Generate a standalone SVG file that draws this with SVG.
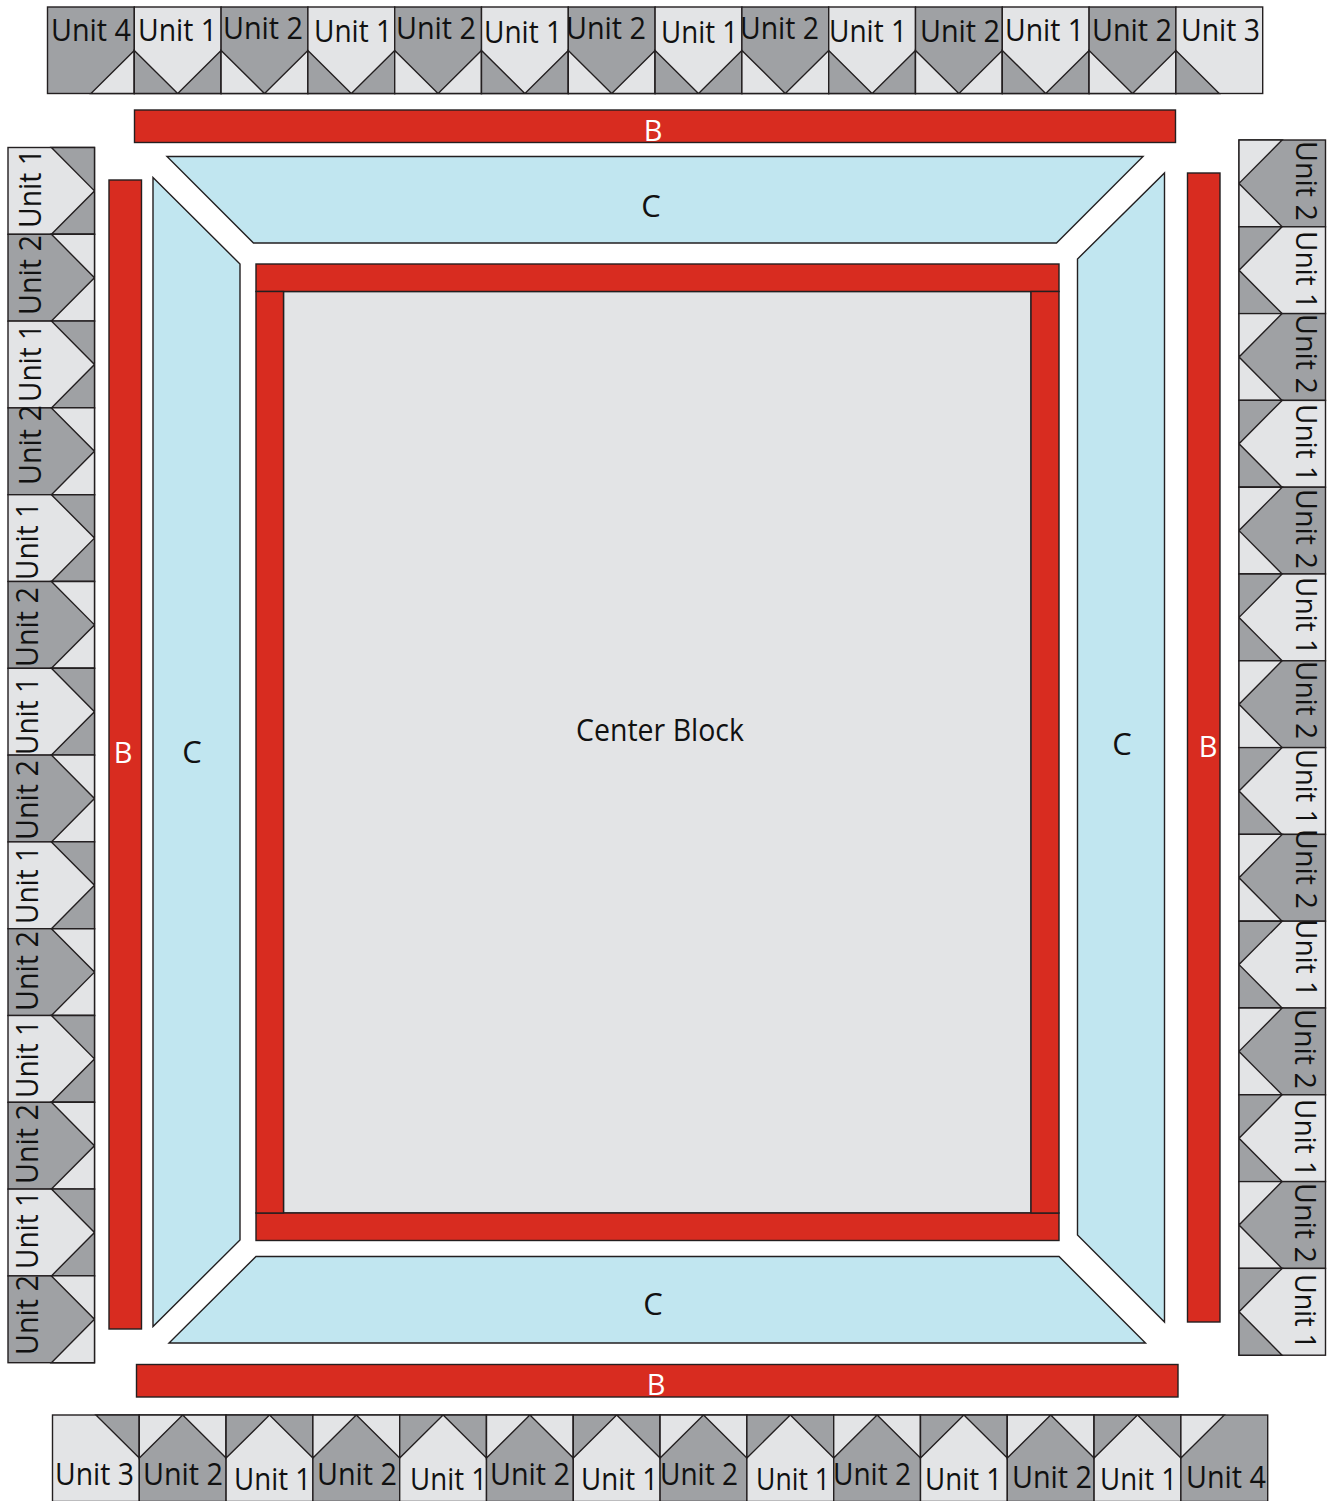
<svg xmlns="http://www.w3.org/2000/svg" xmlns:xlink="http://www.w3.org/1999/xlink" width="1328" height="1501" viewBox="0 0 1328 1501">
<style>
.l{fill:#e3e4e6}.d{fill:#9fa1a4}
.l,.d,.r,.b{stroke:#231f20;stroke-width:1.4;stroke-linejoin:miter}
.r{fill:#d82c20}.b{fill:#c1e6f0}
text{font-family:"Open Sans","Noto Sans","Liberation Sans",sans-serif;font-size:31px;fill:#111}
.w{fill:#fff;font-size:29px}
#labels-right text{font-size:30px}
</style>
<defs>
<g id="u1"><rect class="l" width="86.8" height="86.5"/><path class="d" d="M0 43.4L43.4 86.5H0Z M86.8 43.4L43.4 86.5H86.8Z"/></g>
<g id="u2"><rect class="d" width="86.8" height="86.5"/><path class="l" d="M0 43.4L43.4 86.5H0Z M86.8 43.4L43.4 86.5H86.8Z"/></g>
<g id="u3"><rect class="l" width="86.8" height="86.5"/><path class="d" d="M0 43.4L43.4 86.5H0Z"/></g>
<g id="u4"><rect class="d" width="86.8" height="86.5"/><path class="l" d="M86.8 43.4L43.4 86.5H86.8Z"/></g>
</defs>
<g id="center-block"><rect class="l" x="283.5" y="291.5" width="747.5" height="921.5"/></g>
<g id="center-frame">
<rect class="r" x="256" y="264" width="803" height="27.5"/>
<rect class="r" x="256" y="1213" width="803" height="27.5"/>
<rect class="r" x="256" y="291.5" width="27.5" height="921.5"/>
<rect class="r" x="1031" y="291.5" width="28" height="921.5"/>
</g>
<g id="c-top"><path class="b" d="M167 156.5H1143L1056.5 243H253.5Z"/></g>
<g id="c-left"><path class="b" d="M153 177.5L240 264V1240L153 1326.5Z"/></g>
<g id="c-right"><path class="b" d="M1164.5 173V1322L1077.5 1235V259Z"/></g>
<g id="c-bottom"><path class="b" d="M256 1256.5H1059L1145.5 1343H169Z"/></g>
<g id="b-top"><rect class="r" x="134.5" y="110" width="1041" height="32.5"/></g>
<g id="b-left"><rect class="r" x="109" y="180" width="32.5" height="1149"/></g>
<g id="b-right"><rect class="r" x="1187.5" y="173" width="32.5" height="1149"/></g>
<g id="b-bottom"><rect class="r" x="136.5" y="1364.5" width="1041.5" height="32.5"/></g>
<g id="strip-top">
<use href="#u4" x="47.5" y="7"/><use href="#u1" x="134.3" y="7"/><use href="#u2" x="221.1" y="7"/><use href="#u1" x="307.9" y="7"/><use href="#u2" x="394.7" y="7"/><use href="#u1" x="481.5" y="7"/><use href="#u2" x="568.3" y="7"/><use href="#u1" x="655.1" y="7"/><use href="#u2" x="741.9" y="7"/><use href="#u1" x="828.7" y="7"/><use href="#u2" x="915.5" y="7"/><use href="#u1" x="1002.3" y="7"/><use href="#u2" x="1089.1" y="7"/><use href="#u3" x="1175.9" y="7"/>
</g>
<g id="strip-bottom">
<use href="#u3" transform="translate(139.3 1501.5) rotate(180)"/><use href="#u2" transform="translate(226.1 1501.5) rotate(180)"/><use href="#u1" transform="translate(312.9 1501.5) rotate(180)"/><use href="#u2" transform="translate(399.7 1501.5) rotate(180)"/><use href="#u1" transform="translate(486.5 1501.5) rotate(180)"/><use href="#u2" transform="translate(573.3 1501.5) rotate(180)"/><use href="#u1" transform="translate(660.1 1501.5) rotate(180)"/><use href="#u2" transform="translate(746.9 1501.5) rotate(180)"/><use href="#u1" transform="translate(833.7 1501.5) rotate(180)"/><use href="#u2" transform="translate(920.5 1501.5) rotate(180)"/><use href="#u1" transform="translate(1007.3 1501.5) rotate(180)"/><use href="#u2" transform="translate(1094.1 1501.5) rotate(180)"/><use href="#u1" transform="translate(1180.9 1501.5) rotate(180)"/><use href="#u4" transform="translate(1267.7 1501.5) rotate(180)"/>
</g>
<g id="strip-left">
<use href="#u1" transform="translate(8 234.3) rotate(-90)"/><use href="#u2" transform="translate(8 321.1) rotate(-90)"/><use href="#u1" transform="translate(8 407.9) rotate(-90)"/><use href="#u2" transform="translate(8 494.7) rotate(-90)"/><use href="#u1" transform="translate(8 581.5) rotate(-90)"/><use href="#u2" transform="translate(8 668.3) rotate(-90)"/><use href="#u1" transform="translate(8 755.1) rotate(-90)"/><use href="#u2" transform="translate(8 841.9) rotate(-90)"/><use href="#u1" transform="translate(8 928.7) rotate(-90)"/><use href="#u2" transform="translate(8 1015.5) rotate(-90)"/><use href="#u1" transform="translate(8 1102.3) rotate(-90)"/><use href="#u2" transform="translate(8 1189.1) rotate(-90)"/><use href="#u1" transform="translate(8 1275.9) rotate(-90)"/><use href="#u2" transform="translate(8 1362.7) rotate(-90)"/>
</g>
<g id="strip-right">
<use href="#u2" transform="translate(1325.5 140) rotate(90)"/><use href="#u1" transform="translate(1325.5 226.8) rotate(90)"/><use href="#u2" transform="translate(1325.5 313.6) rotate(90)"/><use href="#u1" transform="translate(1325.5 400.4) rotate(90)"/><use href="#u2" transform="translate(1325.5 487.2) rotate(90)"/><use href="#u1" transform="translate(1325.5 574) rotate(90)"/><use href="#u2" transform="translate(1325.5 660.8) rotate(90)"/><use href="#u1" transform="translate(1325.5 747.6) rotate(90)"/><use href="#u2" transform="translate(1325.5 834.4) rotate(90)"/><use href="#u1" transform="translate(1325.5 921.2) rotate(90)"/><use href="#u2" transform="translate(1325.5 1008) rotate(90)"/><use href="#u1" transform="translate(1325.5 1094.8) rotate(90)"/><use href="#u2" transform="translate(1325.5 1181.6) rotate(90)"/><use href="#u1" transform="translate(1325.5 1268.4) rotate(90)"/>
</g>
<g id="labels-main">
<text x="576" y="741" textLength="168" lengthAdjust="spacingAndGlyphs">Center Block</text>
<text x="651" y="217" text-anchor="middle">C</text>
<text x="653" y="1315" text-anchor="middle">C</text>
<text x="192" y="763" text-anchor="middle">C</text>
<text x="1122" y="755" text-anchor="middle">C</text>
<text class="w" x="653" y="141" text-anchor="middle">B</text>
<text class="w" x="656" y="1395" text-anchor="middle">B</text>
<text class="w" x="123" y="763" text-anchor="middle">B</text>
<text class="w" x="1208" y="757" text-anchor="middle">B</text>
</g>
<g id="labels-top" transform="translate(-1 0.5)">
<text x="52" y="40" textLength="80" lengthAdjust="spacingAndGlyphs">Unit 4</text>
<text x="139" y="40" textLength="79" lengthAdjust="spacingAndGlyphs">Unit 1</text>
<text x="224" y="38" textLength="80" lengthAdjust="spacingAndGlyphs">Unit 2</text>
<text x="315" y="41" textLength="78" lengthAdjust="spacingAndGlyphs">Unit 1</text>
<text x="397" y="38" textLength="80" lengthAdjust="spacingAndGlyphs">Unit 2</text>
<text x="485" y="42" textLength="78" lengthAdjust="spacingAndGlyphs">Unit 1</text>
<text x="567" y="38" textLength="80" lengthAdjust="spacingAndGlyphs">Unit 2</text>
<text x="662" y="42" textLength="77" lengthAdjust="spacingAndGlyphs">Unit 1</text>
<text x="741" y="38" textLength="79" lengthAdjust="spacingAndGlyphs">Unit 2</text>
<text x="830" y="41" textLength="78" lengthAdjust="spacingAndGlyphs">Unit 1</text>
<text x="921" y="41" textLength="80" lengthAdjust="spacingAndGlyphs">Unit 2</text>
<text x="1006" y="40" textLength="79" lengthAdjust="spacingAndGlyphs">Unit 1</text>
<text x="1093" y="40" textLength="80" lengthAdjust="spacingAndGlyphs">Unit 2</text>
<text x="1182" y="40" textLength="79" lengthAdjust="spacingAndGlyphs">Unit 3</text>
</g>
<g id="labels-bottom" transform="translate(-1 1)">
<text x="56" y="1484" textLength="79" lengthAdjust="spacingAndGlyphs">Unit 3</text>
<text x="144" y="1484" textLength="80" lengthAdjust="spacingAndGlyphs">Unit 2</text>
<text x="235" y="1489" textLength="77" lengthAdjust="spacingAndGlyphs">Unit 1</text>
<text x="318" y="1484" textLength="80" lengthAdjust="spacingAndGlyphs">Unit 2</text>
<text x="411" y="1489" textLength="77" lengthAdjust="spacingAndGlyphs">Unit 1</text>
<text x="491" y="1484" textLength="80" lengthAdjust="spacingAndGlyphs">Unit 2</text>
<text x="582" y="1489" textLength="77" lengthAdjust="spacingAndGlyphs">Unit 1</text>
<text x="661" y="1484" textLength="78" lengthAdjust="spacingAndGlyphs">Unit 2</text>
<text x="757" y="1489" textLength="74" lengthAdjust="spacingAndGlyphs">Unit 1</text>
<text x="834" y="1484" textLength="78" lengthAdjust="spacingAndGlyphs">Unit 2</text>
<text x="926" y="1489" textLength="77" lengthAdjust="spacingAndGlyphs">Unit 1</text>
<text x="1013" y="1487" textLength="80" lengthAdjust="spacingAndGlyphs">Unit 2</text>
<text x="1101" y="1489" textLength="77" lengthAdjust="spacingAndGlyphs">Unit 1</text>
<text x="1187" y="1487" textLength="80" lengthAdjust="spacingAndGlyphs">Unit 4</text>
</g>
<g id="labels-left" transform="translate(0 1)">
<text transform="translate(41 227) rotate(-90)" textLength="79" lengthAdjust="spacingAndGlyphs">Unit 1</text>
<text transform="translate(41 314) rotate(-90)" textLength="80" lengthAdjust="spacingAndGlyphs">Unit 2</text>
<text transform="translate(41 401) rotate(-90)" textLength="78" lengthAdjust="spacingAndGlyphs">Unit 1</text>
<text transform="translate(41 484) rotate(-90)" textLength="80" lengthAdjust="spacingAndGlyphs">Unit 2</text>
<text transform="translate(38 579) rotate(-90)" textLength="78" lengthAdjust="spacingAndGlyphs">Unit 1</text>
<text transform="translate(38 666) rotate(-90)" textLength="80" lengthAdjust="spacingAndGlyphs">Unit 2</text>
<text transform="translate(38 754) rotate(-90)" textLength="78" lengthAdjust="spacingAndGlyphs">Unit 1</text>
<text transform="translate(38 839) rotate(-90)" textLength="80" lengthAdjust="spacingAndGlyphs">Unit 2</text>
<text transform="translate(38 923) rotate(-90)" textLength="78" lengthAdjust="spacingAndGlyphs">Unit 1</text>
<text transform="translate(38 1010) rotate(-90)" textLength="80" lengthAdjust="spacingAndGlyphs">Unit 2</text>
<text transform="translate(38 1097) rotate(-90)" textLength="78" lengthAdjust="spacingAndGlyphs">Unit 1</text>
<text transform="translate(38 1183) rotate(-90)" textLength="80" lengthAdjust="spacingAndGlyphs">Unit 2</text>
<text transform="translate(38 1268) rotate(-90)" textLength="78" lengthAdjust="spacingAndGlyphs">Unit 1</text>
<text transform="translate(38 1354) rotate(-90)" textLength="80" lengthAdjust="spacingAndGlyphs">Unit 2</text>
</g>
<g id="labels-right" transform="translate(0 -1)">
<text transform="translate(1296 142) rotate(90)" textLength="80" lengthAdjust="spacingAndGlyphs">Unit 2</text>
<text transform="translate(1296 232) rotate(90)" textLength="78" lengthAdjust="spacingAndGlyphs">Unit 1</text>
<text transform="translate(1296 315) rotate(90)" textLength="80" lengthAdjust="spacingAndGlyphs">Unit 2</text>
<text transform="translate(1296 405) rotate(90)" textLength="78" lengthAdjust="spacingAndGlyphs">Unit 1</text>
<text transform="translate(1296 490) rotate(90)" textLength="80" lengthAdjust="spacingAndGlyphs">Unit 2</text>
<text transform="translate(1296 578) rotate(90)" textLength="78" lengthAdjust="spacingAndGlyphs">Unit 1</text>
<text transform="translate(1296 662) rotate(90)" textLength="78" lengthAdjust="spacingAndGlyphs">Unit 2</text>
<text transform="translate(1296 750) rotate(90)" textLength="76" lengthAdjust="spacingAndGlyphs">Unit 1</text>
<text transform="translate(1296 830) rotate(90)" textLength="80" lengthAdjust="spacingAndGlyphs">Unit 2</text>
<text transform="translate(1296 920) rotate(90)" textLength="78" lengthAdjust="spacingAndGlyphs">Unit 1</text>
<text transform="translate(1295 1010) rotate(90)" textLength="80" lengthAdjust="spacingAndGlyphs">Unit 2</text>
<text transform="translate(1295 1100) rotate(90)" textLength="78" lengthAdjust="spacingAndGlyphs">Unit 1</text>
<text transform="translate(1295 1184) rotate(90)" textLength="80" lengthAdjust="spacingAndGlyphs">Unit 2</text>
<text transform="translate(1295 1275) rotate(90)" textLength="75" lengthAdjust="spacingAndGlyphs">Unit 1</text>
</g>
</svg>
